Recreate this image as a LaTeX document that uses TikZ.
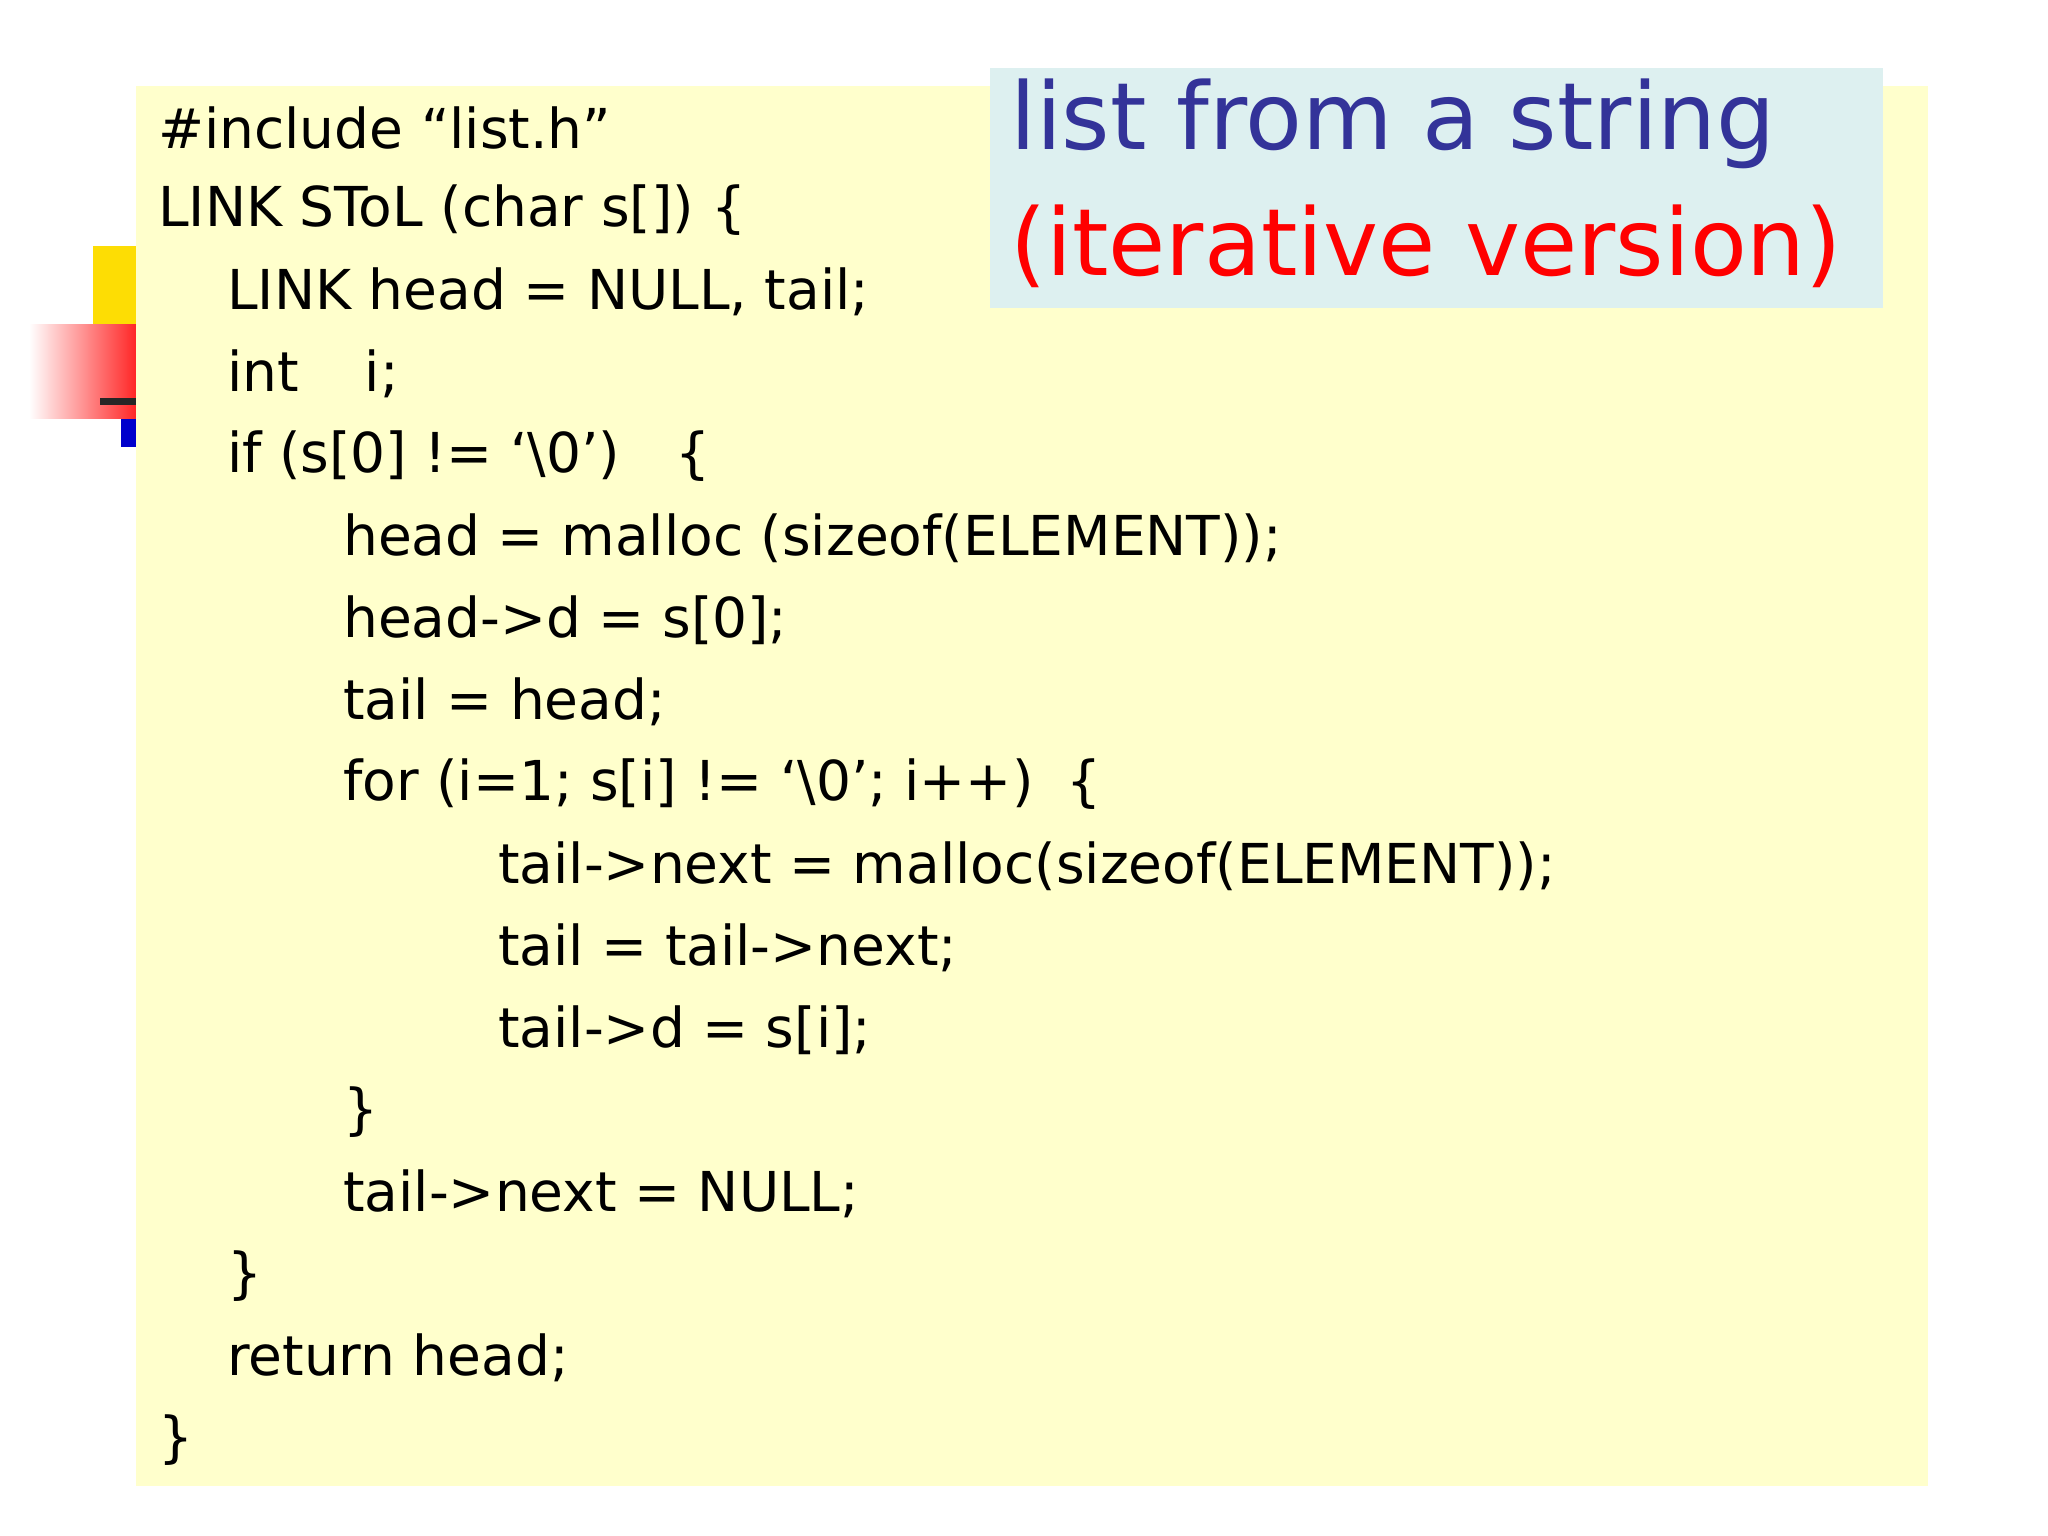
\documentclass[tikz,border=0pt]{standalone}
\usepackage{fontspec}
\setmainfont{DejaVu Sans}
\definecolor{panel}{HTML}{FFFFCC}
\definecolor{titlebg}{HTML}{DDF0F0}
\definecolor{titleblue}{HTML}{333399}
\begin{document}
\begin{tikzpicture}[x=1pt,y=-1pt,
  code/.style={anchor=west,inner sep=0pt,font=\fontsize{55}{60}\selectfont}]
\useasboundingbox (0,0) rectangle (2048,1536);
\fill[white] (0,0) rectangle (2048,1536);
% decoration
\fill[yellow!80!orange] (93,246) rectangle (136,324);
\shade[left color=white,right color=red!85] (29,324) rectangle (136,418);
\fill[black!85] (100,398) rectangle (136,405);
\fill[blue!80!black] (121,419) rectangle (136,447);
\fill[panel] (136,86) rectangle (1928,1486);
\fill[titlebg] (990,68) rectangle (1883,308);
\node[anchor=west,inner sep=0pt,font=\fontsize{93}{100}\selectfont,text=titleblue] (t1) at (1010,124) {list from a string};
\node[anchor=west,inner sep=0pt,font=\fontsize{93}{100}\selectfont,text=red] (t2) at (1010,246) {(iterative version)};
\def\L{158}\def\A{227}\def\B{343}\def\C{498}
\node[code] (l1) at (\L,128) {\#include “list.h”};
\node[code] (l2) at (\L,210) {LINK SToL (char s[]) \{};
\node[code] (l3) at (\A,292) {LINK head = NULL, tail;};
\node[code] (l4) at (\A,374) {int\hspace{1.2em}i;};
\node[code] (l5) at (\A,456) {if (s[0] != ‘\textbackslash 0’)\hspace{1em}\{};
\node[code] (l6) at (\B,538) {head = malloc (sizeof(ELEMENT));};
\node[code] (l7) at (\B,620) {head->d = s[0];};
\node[code] (l8) at (\B,702) {tail = head;};
\node[code] (l9) at (\B,784) {for (i=1; s[i] != ‘\textbackslash 0’; i++)\hspace{0.6em}\{};
\node[code] (l10) at (\C,866) {tail->next = malloc(sizeof(ELEMENT));};
\node[code] (l11) at (\C,948) {tail = tail->next;};
\node[code] (l12) at (\C,1030) {tail->d = s[i];};
\node[code] (l13) at (\B,1112) {\}};
\node[code] (l14) at (\B,1194) {tail->next = NULL;};
\node[code] (l15) at (\A,1276) {\}};
\node[code] (l16) at (\A,1358) {return head;};
\node[code] (l17) at (\L,1440) {\}};
\end{tikzpicture}
\end{document}
